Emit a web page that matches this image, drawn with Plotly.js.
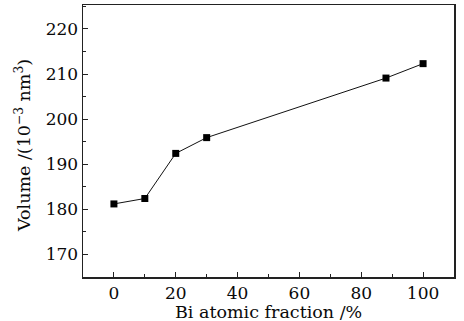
<!DOCTYPE html>
<html>
<head>
<meta charset="utf-8">
<script src="https://cdn.plot.ly/plotly-3.0.1.min.js"></script>
<style>
  html, body { margin: 0; padding: 0; background: #fff; }
  #chart { width: 464px; height: 321px; }
</style>
</head>
<body>
<div id="chart"></div>
<script>
// Bi atomic fraction (%) and cell volume (10^-3 nm^3)
const biFraction = [0, 10, 20, 30, 88, 100];
const volume = [181.2, 182.4, 192.4, 195.9, 209.1, 212.3];

const xTickVals = [0, 20, 40, 60, 80, 100];
const yTickVals = [170, 180, 190, 200, 210, 220];

const xTitle = 'Bi atomic fraction /%';
const yTitle = 'Volume /(10<sup>−3</sup> nm<sup>3</sup>)';

const fontFamily = '"DejaVu Serif", "Liberation Serif", serif';
const ink = '#0a0a0a';

const trace = {
  x: biFraction,
  y: volume,
  type: 'scatter',
  mode: 'lines+markers',
  line: { color: '#111', width: 1 },
  marker: { symbol: 'square', size: 7, color: '#000' },
  hoverinfo: 'skip'
};

const axisCommon = {
  showline: true,
  linecolor: '#222',
  linewidth: 1.5,
  mirror: true,
  ticks: 'inside',
  ticklen: 5,
  tickwidth: 1,
  tickcolor: '#222',
  showgrid: false,
  zeroline: false,
  tickfont: { family: fontFamily, size: 17, color: ink }
};

const layout = {
  width: 464,
  height: 321,
  margin: { l: 83, r: 10, t: 5, b: 44 },
  paper_bgcolor: '#fff',
  plot_bgcolor: '#fff',
  showlegend: false,
  xaxis: Object.assign({}, axisCommon, {
    range: [-10, 110],
    tickvals: xTickVals,
    ticktext: xTickVals.map(String),
    minor: { dtick: 10, tick0: 0, ticks: 'inside', ticklen: 3, tickcolor: '#222', showgrid: false }
  }),
  yaxis: Object.assign({}, axisCommon, {
    range: [165, 225.3],
    tickvals: yTickVals,
    ticktext: yTickVals.map(String),
    minor: { dtick: 5, tick0: 165, ticks: 'inside', ticklen: 3, tickcolor: '#222', showgrid: false }
  }),
  annotations: [
    {
      text: xTitle, xref: 'paper', yref: 'paper', x: 0.5, y: -0.128,
      xanchor: 'center', yanchor: 'middle', showarrow: false,
      font: { family: fontFamily, size: 17.5, color: ink }
    },
    {
      text: yTitle, xref: 'paper', yref: 'paper', x: -0.162, y: 0.485,
      xanchor: 'center', yanchor: 'middle', showarrow: false, textangle: -90,
      font: { family: fontFamily, size: 17.5, color: ink }
    }
  ]
};

Plotly.newPlot('chart', [trace], layout, { staticPlot: true, displayModeBar: false });
</script>
</body>
</html>
